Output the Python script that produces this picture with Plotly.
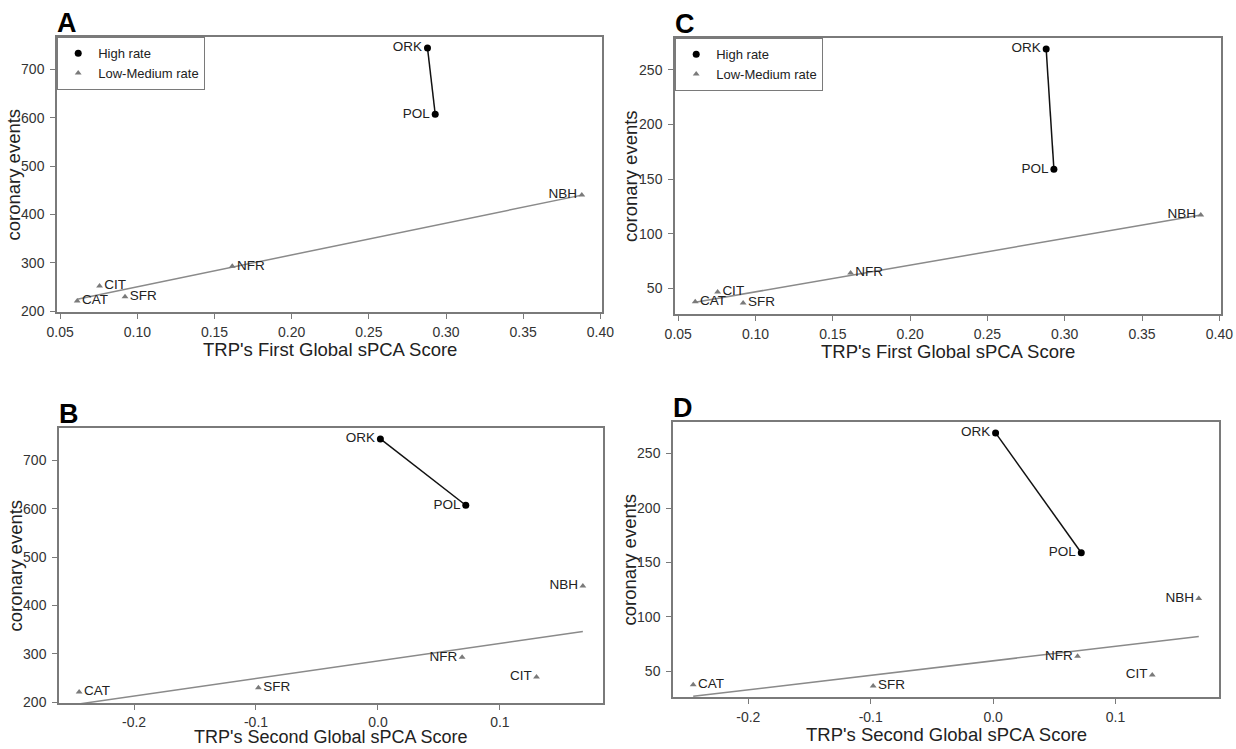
import numpy as np
import plotly.graph_objects as go

# ---------------- data ----------------
high_codes = ["ORK", "POL"]
low_codes = ["NBH", "NFR", "CIT", "CAT", "SFR"]

first_score_high = [0.288, 0.293]
first_score_low = [0.388, 0.1615, 0.0755, 0.061, 0.092]
second_score_high = [0.002, 0.072]
second_score_low = [0.168, 0.069, 0.130, -0.245, -0.098]

events_ab_high = [744, 607]
events_ab_low = [440, 293, 252, 221, 230]
events_cd_high = [269, 159]
events_cd_low = [117, 64, 46.6, 37.7, 36.5]

first_ticks = [0.05, 0.10, 0.15, 0.20, 0.25, 0.30, 0.35, 0.40]
first_labels = ["0.05", "0.10", "0.15", "0.20", "0.25", "0.30", "0.35", "0.40"]
second_ticks = [-0.2, -0.1, 0.0, 0.1]
second_labels = ["-0.2", "-0.1", "0.0", "0.1"]
events_ab_ticks = [200, 300, 400, 500, 600, 700]
events_cd_ticks = [50, 100, 150, 200, 250]

pos_first_low = ["middle left", "middle right", "middle right", "middle right", "middle right"]
pos_second_low = ["middle left", "middle left", "middle left", "middle right", "middle right"]

legend_names = ["High rate", "Low-Medium rate"]
panel_letters = ["A", "B", "C", "D"]
x_titles = ["TRP's First Global sPCA Score", "TRP's Second Global sPCA Score"]
y_title = "coronary events"

# ---------------- style ----------------
W, H = 1236, 749
FONT = "Liberation Sans, Arial, Helvetica, sans-serif"
AXIS_GREY = "#7a7a7a"
TEXT = "#222222"
LINE_GREY = "#8a8a8a"
TRI_GREY = "#7a7a7a"

# panel boxes in pixels: left, right, top, bottom
boxes = {
    1: (57, 602, 37, 312),    # A
    2: (59, 603, 428, 703),   # B
    3: (675, 1221, 38, 314),  # C
    4: (673, 1219, 422, 697), # D
}


def rrange(vals, frac):
    lo, hi = min(vals), max(vals)
    pad = (hi - lo) * frac
    return [lo - pad, hi + pad]


fig = go.Figure()

panels = [
    (1, first_score_high, first_score_low, events_ab_high, events_ab_low, pos_first_low, "legend",
     first_ticks, first_labels, events_ab_ticks, x_titles[0]),
    (2, second_score_high, second_score_low, events_ab_high, events_ab_low, pos_second_low, None,
     second_ticks, second_labels, events_ab_ticks, x_titles[1]),
    (3, first_score_high, first_score_low, events_cd_high, events_cd_low, pos_first_low, "legend2",
     first_ticks, first_labels, events_cd_ticks, x_titles[0]),
    (4, second_score_high, second_score_low, events_cd_high, events_cd_low, pos_second_low, None,
     second_ticks, second_labels, events_cd_ticks, x_titles[1]),
]

annotations = []
layout_axes = {}

for idx, xh, xl, yh, yl, lpos, leg, xt, xtl, yt, xtitle in panels:
    xa = "x" if idx == 1 else f"x{idx}"
    ya = "y" if idx == 1 else f"y{idx}"
    fig.add_trace(go.Scatter(x=xh, y=yh, mode="lines", xaxis=xa, yaxis=ya,
                             line=dict(color="#111111", width=1.5),
                             showlegend=False, hoverinfo="skip"))
    coef = np.polyfit(xl, yl, 1)
    fx = [min(xl), max(xl)]
    fy = list(np.polyval(coef, fx))
    fig.add_trace(go.Scatter(x=fx, y=fy, mode="lines", xaxis=xa, yaxis=ya,
                             line=dict(color=LINE_GREY, width=1.5),
                             showlegend=False, hoverinfo="skip"))
    fig.add_trace(go.Scatter(x=xh, y=yh, mode="markers+text", xaxis=xa, yaxis=ya,
                             text=high_codes, textposition="middle left",
                             textfont=dict(family=FONT, size=13.5, color=TEXT),
                             marker=dict(symbol="circle", size=7, color="#000000"),
                             name=legend_names[0],
                             legend=leg if leg else "legend",
                             showlegend=leg is not None))
    fig.add_trace(go.Scatter(x=xl, y=yl, mode="markers+text", xaxis=xa, yaxis=ya,
                             text=low_codes, textposition=lpos,
                             textfont=dict(family=FONT, size=13.5, color=TEXT),
                             marker=dict(symbol="triangle-up", size=6, color=TRI_GREY),
                             name=legend_names[1],
                             legend=leg if leg else "legend",
                             showlegend=leg is not None))

    l, r, t, b = boxes[idx]
    common = dict(showline=True, mirror=True, linecolor=AXIS_GREY, linewidth=1.5,
                  ticks="outside", ticklen=5, tickcolor=AXIS_GREY, tickwidth=1.2,
                  showgrid=False, zeroline=False, automargin=False,
                  tickfont=dict(family=FONT, size=14, color="#333333"))
    xkey = "xaxis" if idx == 1 else f"xaxis{idx}"
    ykey = "yaxis" if idx == 1 else f"yaxis{idx}"
    bottom_row = b + 37 > H - 13
    layout_axes[xkey] = dict(domain=[l / W, r / W], anchor=ya, range=rrange(xh + xl, 0.04),
                             tickmode="array", tickvals=xt, ticktext=xtl,
                             ticklabelstandoff=0 if bottom_row else 1, **common)
    layout_axes[ykey] = dict(domain=[1 - b / H, 1 - t / H], anchor=xa, range=rrange(yh + yl, 0.043),
                             tickmode="array", tickvals=yt, ticktext=[str(v) for v in yt],
                             ticklabelstandoff=3, **common)

    annotations.append(dict(text=f"<b>{panel_letters[idx - 1]}</b>",
                            xref="paper", yref="paper", x=(l - 2) / W, y=1 - (t - 14) / H,
                            xanchor="left", yanchor="middle", showarrow=False,
                            font=dict(family=FONT, size=27, color="#000000")))
    title_y = min(b + 37, H - 12)
    annotations.append(dict(text=xtitle, xref="paper", yref="paper",
                            x=(l + r) / 2 / W, y=1 - title_y / H,
                            xanchor="center", yanchor="middle", showarrow=False,
                            font=dict(family=FONT, size=18 if bottom_row else 18.5, color=TEXT)))
    annotations.append(dict(text=y_title, xref="paper", yref="paper", textangle=-90,
                            x=(l - 44) / W, y=1 - (t + b) / 2 / H,
                            xanchor="center", yanchor="middle", showarrow=False,
                            font=dict(family=FONT, size=18.5, color=TEXT)))

legend_common = dict(xanchor="left", yanchor="top", bgcolor="white",
                     bordercolor=AXIS_GREY, borderwidth=1.2,
                     font=dict(family=FONT, size=13, color=TEXT),
                     traceorder="normal", tracegroupgap=0, itemwidth=30)

fig.update_layout(
    width=W, height=H,
    margin=dict(l=0, r=0, t=0, b=0, autoexpand=False),
    paper_bgcolor="white", plot_bgcolor="white",
    font=dict(family=FONT, color=TEXT),
    annotations=annotations,
    legend=dict(x=57 / W, y=1 - 37 / H, **legend_common),
    legend2=dict(x=675 / W, y=1 - 38 / H, **legend_common),
    **layout_axes,
)

fig.write_html("out.html")
